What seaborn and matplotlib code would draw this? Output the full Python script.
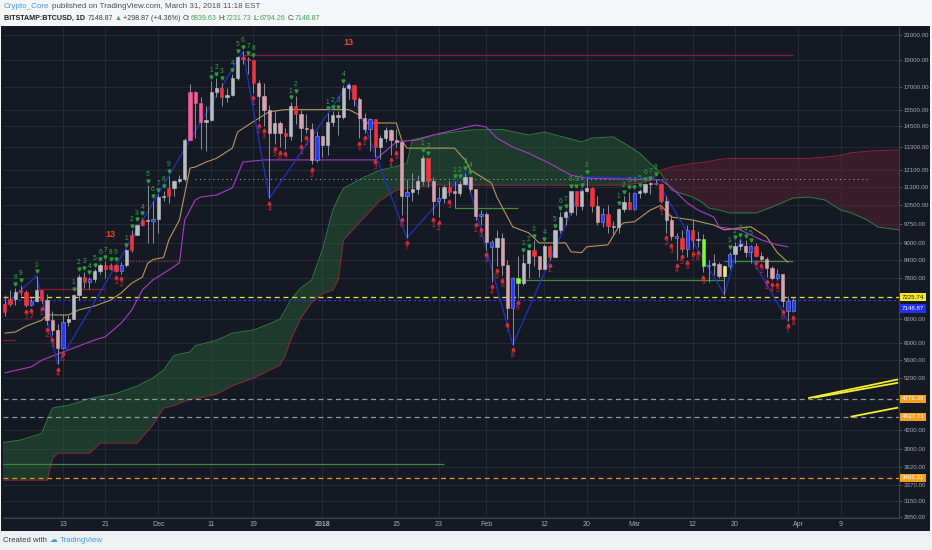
import numpy as np
import pandas as pd
import matplotlib
matplotlib.use('Agg')
import matplotlib.pyplot as plt
import matplotlib.dates as mdates
import matplotlib.transforms as mtransforms
from matplotlib.ticker import FixedLocator, NullLocator, FuncFormatter
import seaborn as sns

W, H = 932, 550

# daily candles BITSTAMP:BTCUSD, 2 Nov 2017 - 31 Mar 2018
candle_start = '2017-11-02'
first_open = 6800
last_open = 6839.63
closes = [7030, 7160, 7390, 7380, 7000, 7100, 7440, 7140, 6590, 6330,
          5880, 6530, 6600, 7300, 7850, 7700, 7780, 8040, 8240, 8100,
          8230, 8030, 8230, 8740, 9300, 9700, 9900, 9850, 9950,
          10860, 10900, 11250, 11600, 11700, 13700, 16650, 15900, 14750, 14850,
          16650, 16900, 16300, 16450, 17600, 19200, 19050, 18950, 17300, 16400,
          15500, 14100, 14700, 14100, 13950, 15760, 15250, 14400, 14300, 12650,
          13900,
          13400, 14750, 15150, 15050, 16900, 17150, 16200, 15000, 14300, 14900,
          13300, 13800, 14250, 13700, 13600, 10900, 11100, 11200, 11600, 12750,
          11600, 10700, 10800, 11300, 11100, 11050, 11450, 11800, 11200, 10050,
          10150,
          9050, 8850, 9200, 8230, 6900, 7800, 7650, 8300, 8750, 8550,
          8100, 8900, 8500, 9500, 10030, 10200, 11150, 10450, 11150, 11250,
          10450, 9800, 10150, 9650, 9600, 10350, 10650, 10350,
          11050, 11100, 11450, 11500, 11450, 10700, 9900, 9250, 9200, 8800,
          9500, 9100, 9150, 8200, 8250, 8270, 7870, 8200, 8600, 8900,
          8900, 8700, 8900, 8550, 8450, 8150, 7800, 7950, 7100, 6840,
          7148.87]
highs = [7300, 7450, 7500, 7600, 7430, 7200, 7880, 7440, 7320, 6820,
         6480, 6750, 6720, 7330, 7950, 8000, 7850, 8100, 8290, 8370,
         8300, 8280, 8330, 8780, 9500, 9740, 9980, 11400, 10700,
         10980, 11150, 11850, 11650, 11900, 13800, 17200, 16700, 16300, 15700,
         17400, 17600, 17300, 16900, 17900, 19300, 19670, 19200, 19000, 17500,
         17300, 15800, 15500, 14800, 14400, 16000, 16400, 15500, 15200, 14700,
         14200,
         13900, 15300, 15400, 15400, 17100, 17250, 17150, 16300, 15300, 14950,
         14900, 14000, 14450, 14300, 14300, 13600, 11700, 12000, 11900, 12900,
         12750, 11800, 11300, 11400, 11600, 11600, 11600, 12000, 11800, 11200,
         10300,
         10200, 9100, 9500, 9400, 8400, 7850, 8550, 8600, 8750, 9100,
         8550, 8980, 8920, 9500, 10200, 10300, 11150, 11150, 11200, 11800,
         11300, 10900, 10400, 10500, 9850, 10400, 10900, 11100,
         11100, 11200, 11500, 11550, 11700, 11500, 10900, 10100, 9400, 9500,
         9700, 9900, 9450, 9350, 8400, 8600, 8350, 8250, 8700, 9050,
         9150, 9100, 8950, 9000, 8700, 8500, 8200, 8100, 7950, 7250,
         7231.73]
lows = [6700, 6960, 6990, 7290, 6940, 6970, 7080, 7050, 6450, 6200,
        5500, 5850, 6430, 6600, 7130, 7500, 7460, 7680, 7940, 7800,
        8060, 8000, 7950, 8160, 8700, 9290, 9640, 9000, 9000,
        9400, 10700, 10600, 10900, 11480, 11600, 13700, 13800, 13200, 13100,
        14800, 16300, 15700, 16000, 16400, 17500, 18700, 17900, 16600, 14800,
        14500, 10800, 13500, 13300, 13200, 13700, 14600, 13600, 14100, 12400,
        12500,
        12800, 12900, 14500, 14000, 14900, 16200, 15700, 13800, 14100, 13100,
        12800, 12700, 13600, 12900, 13300, 10100, 9200, 10700, 11000, 11400,
        11300, 10100, 10000, 10600, 10900, 10400, 10900, 11400, 11100, 9900,
        9700,
        8750, 7700, 8200, 7900, 6600, 5950, 7200, 7600, 7800, 8200,
        7850, 8100, 8400, 8500, 9400, 9700, 10100, 10100, 10300, 11100,
        10200, 9700, 9600, 9400, 9300, 9400, 10200, 10300,
        10300, 10800, 11000, 11000, 11400, 10600, 9400, 9100, 8400, 8700,
        8500, 8800, 8850, 8000, 7700, 7900, 7800, 7300, 8100, 8300,
        8750, 8500, 8300, 8500, 8370, 7850, 7750, 7750, 6950, 6560,
        6794.26]
# colour of each candle body as painted on the chart
candle_colors = ("rrgrrbgrpppbgggrbggrrrbgrgrpb"
                 "ggrgggmmmgggrgggrrrpppgprgrpppb"
                 "pggpggrppbrggpppbgggrpbgrpggppb"
                 "pbgppblggrpgrggggrggrpbrpggr"
                 "bgggrrppbrbrplbgpybggpbrpppbpbb")

# ichimoku-style cloud edges
cloud_dates = ['2017-11-01', '2017-11-05', '2017-11-09', '2017-11-10', '2017-11-11', '2017-11-12',
               '2017-11-14', '2017-11-18', '2017-11-20', '2017-11-23', '2017-11-27', '2017-11-30',
               '2017-12-02', '2017-12-04', '2017-12-07', '2017-12-08', '2017-12-12', '2017-12-15',
               '2017-12-19', '2017-12-22', '2017-12-24', '2017-12-25', '2017-12-26', '2017-12-28',
               '2017-12-30', '2018-01-01', '2018-01-03', '2018-01-04', '2018-01-05', '2018-01-09',
               '2018-01-12', '2018-01-15', '2018-01-17', '2018-01-18', '2018-01-22', '2018-01-29',
               '2018-02-04', '2018-02-09', '2018-02-12', '2018-02-19', '2018-02-21', '2018-02-25',
               '2018-02-27', '2018-03-02', '2018-03-04', '2018-03-06', '2018-03-08', '2018-03-12',
               '2018-03-14', '2018-03-15', '2018-03-17', '2018-03-19', '2018-03-24', '2018-03-27',
               '2018-03-31', '2018-04-03', '2018-04-06', '2018-04-09', '2018-04-11', '2018-04-14',
               '2018-04-16', '2018-04-20']
span_a = [3990, 4040, 4150, 4380, 4600, 4620,
          4650, 4780, 4820, 4880, 5030, 5200,
          5370, 5700, 5780, 5930, 6060, 6240,
          6320, 6480, 6600, 6860, 7140, 7510,
          7750, 8750, 10300, 10800, 11250, 11780,
          12120, 12300, 12450, 13700, 13980, 14270,
          14300, 13980, 14150, 13590, 13810, 13870,
          13530, 12980, 12450, 11970, 11170, 10860,
          10600, 10390, 10300, 10180, 10180, 10430,
          10820, 10860, 10730, 10300, 10180, 9890,
          9610, 9500]
span_b = [3430, 3430, 3430, 3430, 3750, 3830,
          3830, 3830, 3990, 3990, 3990, 4300,
          4600, 4650, 4770, 4780, 4870, 5040,
          5200, 5370, 5480, 5700, 6070, 6650,
          7080, 7330, 7440, 7750, 9120, 10020,
          10730, 11170, 11250, 11300, 11400, 11400,
          11400, 11400, 11400, 11400, 11400, 11400,
          11400, 11500, 11600, 12120, 12270, 12450,
          12500, 12550, 12660, 12710, 12710, 12710,
          12710, 12710, 12780, 12860, 13010, 13080,
          13120, 13150]

# fast (orange) and slow (purple) lines
fast_dates = ['2017-11-02', '2017-11-04', '2017-11-06', '2017-11-09', '2017-11-10', '2017-11-14',
              '2017-11-16', '2017-11-19', '2017-11-22', '2017-11-24', '2017-11-26', '2017-11-28',
              '2017-11-29', '2017-11-30', '2017-12-02', '2017-12-03', '2017-12-05', '2017-12-06',
              '2017-12-07', '2017-12-08', '2017-12-10', '2017-12-12', '2017-12-15', '2017-12-16',
              '2017-12-18', '2017-12-21', '2017-12-22', '2017-12-25', '2018-01-06', '2018-01-08',
              '2018-01-09', '2018-01-15', '2018-01-16', '2018-01-17', '2018-01-26', '2018-01-28',
              '2018-01-29', '2018-02-02', '2018-02-03', '2018-02-05', '2018-02-06', '2018-02-09',
              '2018-02-11', '2018-02-16', '2018-02-17', '2018-02-19', '2018-02-20', '2018-02-24',
              '2018-02-26', '2018-02-27', '2018-03-01', '2018-03-04', '2018-03-06', '2018-03-08',
              '2018-03-12', '2018-03-16', '2018-03-18', '2018-03-21', '2018-03-23', '2018-03-26',
              '2018-03-28', '2018-03-30']
fast_vals = [6240, 6270, 6420, 6580, 6720, 6720,
             6860, 6970, 7140, 7350, 7650, 7840,
             8290, 8420, 8490, 9120, 9890, 11000,
             12220, 12270, 12520, 12710, 13250, 14150,
             14560, 15170, 15370, 15500, 15500, 15170,
             14680, 14680, 13700, 13250, 13250, 12630,
             12120, 11490, 10860, 10010, 9620, 9390,
             9010, 9010, 8690, 8660, 8870, 8940,
             9620, 9780, 9820, 10300, 10500, 10010,
             9890, 9690, 9500, 9580, 9620, 9230,
             8660, 8330]
slow_dates = ['2017-11-02', '2017-11-07', '2017-11-09', '2017-11-13', '2017-11-19', '2017-11-21',
              '2017-11-24', '2017-11-26', '2017-11-28', '2017-11-30', '2017-12-03', '2017-12-05',
              '2017-12-06', '2017-12-08', '2017-12-09', '2017-12-12', '2017-12-15', '2017-12-17',
              '2017-12-21', '2018-01-11', '2018-01-15', '2018-01-19', '2018-01-22', '2018-01-30',
              '2018-02-01', '2018-02-03', '2018-02-06', '2018-02-09', '2018-02-13', '2018-02-17',
              '2018-02-20', '2018-03-06', '2018-03-08', '2018-03-11', '2018-03-13', '2018-03-16',
              '2018-03-17', '2018-03-21', '2018-03-25', '2018-03-28', '2018-03-30']
slow_vals = [5310, 5440, 5590, 5780, 6070, 6150,
             6500, 6860, 7440, 7750, 8070, 8310,
             9890, 10730, 10860, 10950, 11270, 12520,
             12630, 12630, 13590, 13700, 13980, 14560,
             14440, 13810, 13310, 12980, 12450, 11870,
             11720, 11640, 11280, 10600, 10300, 10010,
             9610, 9500, 9120, 8940, 8870]

# swing line joining the pivots
zig_dates = ['2017-11-01', '2017-11-08', '2017-11-12', '2017-12-07', '2017-12-17', '2017-12-22',
             '2018-01-06', '2018-01-17', '2018-01-28', '2018-02-06', '2018-02-20', '2018-03-05',
             '2018-03-18', '2018-03-21', '2018-03-30']
zig_vals = [6860, 7880, 5500, 13700, 19650, 10800,
            17250, 9200, 12000, 5950, 11800, 11700,
            7300, 9150, 6560]

# short support / resistance segments
seg_start = ['2017-12-17', '2017-11-08', '2017-11-01', '2017-11-25', '2017-12-08',
             '2017-11-01', '2018-01-26', '2018-02-07', '2018-03-18']
seg_end = ['2018-03-31', '2017-11-21', '2017-11-04', '2017-12-05', '2018-04-14',
           '2018-01-24', '2018-02-07', '2018-03-18', '2018-03-31']
seg_price = [19350, 7470, 6080, 8380, 11700, 3660, 10400, 7760, 8380]
seg_kind = ['red', 'red', 'red', 'reddot', 'dot', 'green', 'green', 'green', 'green']

# full width price lines and their axis labels
level_prices = [7225.74, 7148.87, 4776.36, 4437.71, 3462.31]
level_kind = ['yellow', 'blue', 'grey', 'grey', 'orange']

# hand drawn yellow trend lines on the right
trend_start = ['2018-04-02 20:00', '2018-04-04 00:00', '2018-04-10 20:00']
trend_end = ['2018-04-19 20:00', '2018-04-19 20:00', '2018-04-19 20:00']
trend_p0 = [4790, 4800, 4440]
trend_p1 = [5170, 5100, 4610]

# TD sequential counts
td_up_dates = ['2017-11-04', '2017-11-05', '2017-11-08',
               '2017-11-15', '2017-11-16', '2017-11-17', '2017-11-18', '2017-11-19', '2017-11-20',
               '2017-11-21', '2017-11-22', '2017-11-23',
               '2017-11-25', '2017-11-26', '2017-11-27', '2017-11-28', '2017-11-29', '2017-11-30',
               '2017-12-01', '2017-12-02', '2017-12-03',
               '2017-12-11', '2017-12-12', '2017-12-13', '2017-12-15', '2017-12-16', '2017-12-17',
               '2017-12-18', '2017-12-19',
               '2017-12-26', '2017-12-27', '2018-01-02', '2018-01-03', '2018-01-04', '2018-01-05',
               '2018-01-20', '2018-01-21', '2018-01-26', '2018-01-27', '2018-01-28', '2018-01-29',
               '2018-02-08', '2018-02-09', '2018-02-10', '2018-02-12', '2018-02-14', '2018-02-15',
               '2018-02-16', '2018-02-17', '2018-02-18',
               '2018-02-19', '2018-02-20', '2018-02-26', '2018-02-27', '2018-02-28', '2018-03-01',
               '2018-03-02', '2018-03-03', '2018-03-04', '2018-03-05',
               '2018-03-19', '2018-03-20', '2018-03-21', '2018-03-22', '2018-03-23']
td_up_counts = [8, 9, 1,
                1, 2, 3, 4, 5, 6, 7, 8, 9,
                1, 2, 3, 4, 5, 6, 7, 8, 9,
                1, 2, 3, 4, 5, 6, 7, 8,
                1, 2, 1, 2, 3, 4,
                1, 2, 1, 2, 3, 4,
                1, 2, 3, 4, 5, 6, 7, 8, 9,
                1, 2, 1, 2, 3, 4, 5, 6, 7, 8,
                1, 2, 3, 4, 5]
td_dn_dates = ['2017-11-06', '2017-11-07', '2017-11-09', '2017-11-10', '2017-11-11', '2017-11-12',
               '2017-11-13', '2017-11-23', '2017-11-24',
               '2017-12-19', '2017-12-20', '2017-12-21', '2017-12-22', '2017-12-23', '2017-12-24',
               '2017-12-25', '2017-12-28', '2017-12-29', '2017-12-30',
               '2018-01-08', '2018-01-09', '2018-01-11', '2018-01-14', '2018-01-15', '2018-01-16',
               '2018-01-17', '2018-01-22', '2018-01-23', '2018-01-25',
               '2018-01-30', '2018-01-31', '2018-02-01', '2018-02-02', '2018-02-03', '2018-02-04',
               '2018-02-05', '2018-02-06', '2018-02-07', '2018-02-13',
               '2018-03-06', '2018-03-07', '2018-03-08', '2018-03-09', '2018-03-10', '2018-03-11',
               '2018-03-12', '2018-03-13', '2018-03-14',
               '2018-03-24', '2018-03-25', '2018-03-26', '2018-03-27', '2018-03-28', '2018-03-29',
               '2018-03-30', '2018-03-31']
td_dn_counts = [1, 2, 1, 2, 3, 4,
                5, 1, 2,
                1, 2, 3, 4, 5, 6,
                7, 1, 2, 3,
                1, 2, 3, 4, 5, 6,
                7, 1, 2, 3,
                1, 2, 3, 4, 5, 6,
                7, 8, 9, 1,
                1, 2, 3, 4, 5, 6,
                7, 8, 9,
                1, 2, 3, 4, 5, 6,
                7, 8]
td13_dates = ['2017-11-22', '2018-01-06']
td13_prices = [9150, 19980]

# axis ticks
price_ticks = [21000, 19000, 17000, 15500, 14500, 13300, 12100, 11300, 10500, 9750,
               9000, 8400, 7800, 6600, 6000, 5600, 5200, 4200, 3900, 3620, 3370, 3150, 2950]
date_ticks = ['2017-11-13', '2017-11-21', '2017-12-01', '2017-12-11', '2017-12-19', '2018-01-01',
              '2018-01-15', '2018-01-23', '2018-02-01', '2018-02-12', '2018-02-20', '2018-03-01',
              '2018-03-12', '2018-03-20', '2018-04-01', '2018-04-09']
date_labels = ['13', '21', 'Dec', '11', '19', '2018', '15', '23', 'Feb', '12', '20', 'Mar',
               '12', '20', 'Apr', '9']


def dnum(s):
    return mdates.date2num(pd.to_datetime(s))


sns.set_style('dark')
plt.rcParams['font.family'] = ['Liberation Sans', 'DejaVu Sans']

BG = '#151924'
fig = plt.figure(figsize=(W / 100, H / 100), dpi=100, facecolor='#f4f6f8')
fig.patches.append(plt.Rectangle((1 / W, 1 - 531 / H), 929 / W, 505 / H, transform=fig.transFigure,
                                 fc=BG, ec='none', zorder=-2))
fig.patches.append(plt.Rectangle((0, 0), 1, 1 - 531 / H, transform=fig.transFigure,
                                 fc='#eef1f4', ec='none', zorder=-2))
ax = fig.add_axes([3 / W, 1 - 518 / H, 896 / W, 491 / H])
ax.set_facecolor(BG)
ax.set_yscale('log')

# cloud
cx = dnum(cloud_dates)
a = np.array(span_a, float)
b = np.array(span_b, float)
ax.fill_between(cx, a, b, where=a >= b, interpolate=True, color='#2a6a3a', alpha=0.42, lw=0, zorder=1)
ax.fill_between(cx, a, b, where=a < b, interpolate=True, color='#6a2234', alpha=0.42, lw=0, zorder=1)
sns.lineplot(x=cx, y=a, ax=ax, color='#2f7d42', lw=0.7, zorder=2)
sns.lineplot(x=cx, y=b, ax=ax, color='#8e2535', lw=0.7, zorder=2)

# support / resistance segments
seg_style = {'red': dict(color='#8e1f2e', lw=0.9, ls='-'),
             'reddot': dict(color='#8e3a2e', lw=0.9, ls=(0, (1, 1.5))),
             'dot': dict(color='#9aa0a8', lw=0.8, ls=(0, (1, 3))),
             'green': dict(color='#3f8a3a', lw=0.9, ls='-')}
for s0, s1, p, k in zip(seg_start, seg_end, seg_price, seg_kind):
    ax.hlines(p, dnum(s0), dnum(s1), zorder=2, **seg_style[k])

# full width levels
lvl_style = {'yellow': dict(color='#e9e23a', lw=0.9, ls=(0, (4, 3))),
             'blue': dict(color='#2736d8', lw=0.9, ls=(0, (2, 2))),
             'grey': dict(color='#8f959e', lw=0.9, ls=(0, (4, 3))),
             'orange': dict(color='#e8932a', lw=0.9, ls=(0, (4, 3)))}
for p, k in zip(level_prices, level_kind):
    ax.axhline(p, zorder=2, **lvl_style[k])

# fast / slow lines and swing line
sns.lineplot(x=dnum(fast_dates), y=fast_vals, ax=ax, color='#b8955c', lw=0.8, zorder=3)
sns.lineplot(x=dnum(slow_dates), y=slow_vals, ax=ax, color='#a73ec4', lw=0.8, zorder=3)
sns.lineplot(x=dnum(zig_dates), y=zig_vals, ax=ax, color='#2231c4', lw=0.9, zorder=3, sort=False)

# candles
dates = pd.date_range(candle_start, periods=len(closes), freq='D')
xs = mdates.date2num(dates)
opens = [first_open] + closes[:-1]
opens[-1] = last_open
o = np.array(opens, float)
c = np.array(closes, float)
h = np.maximum(np.array(highs, float), np.maximum(o, c))
l = np.minimum(np.array(lows, float), np.minimum(o, c))
palette = {'g': '#b9bdc3', 'p': '#d7a4ae', 'r': '#f2333e', 'b': '#2b3cf0',
           'm': '#f45d98', 'l': '#84f53c', 'y': '#e0f27a'}
fills = [palette[k] for k in candle_colors]
edges = ['#7d95ff' if k == 'b' else palette[k] for k in candle_colors]
body_lo = np.minimum(o, c)
body_h = np.maximum(np.abs(c - o), body_lo * 0.006)
ax.vlines(xs, l, h, colors='#8a9099', lw=0.7, zorder=4)
ax.bar(xs, body_h, bottom=body_lo, width=0.62, color=fills, edgecolor=edges, linewidth=0.4, zorder=5)

# TD counts
idx = {d.strftime('%Y-%m-%d'): i for i, d in enumerate(dates)}
for d, n in zip(td_up_dates, td_up_counts):
    i = idx[d]
    ax.plot(xs[i], h[i] * 1.018, marker='v', ms=2.2, color='#2b9a3c', zorder=6, ls='none')
    ax.text(xs[i], h[i] * 1.03, str(n), color='#34a845', fontsize=4.8, ha='center', va='bottom', zorder=6)
for d, n in zip(td_dn_dates, td_dn_counts):
    i = idx[d]
    ax.plot(xs[i], l[i] / 1.018, marker='^', ms=2.2, color='#d82e38', zorder=6, ls='none')
    ax.text(xs[i], l[i] / 1.03, str(n), color='#d82e38', fontsize=4.8, ha='center', va='top', zorder=6)
for d, p in zip(td13_dates, td13_prices):
    ax.text(dnum(d), p, '13', color='#e4482f', fontsize=6.5, fontweight='bold', ha='center', va='bottom', zorder=6)

# yellow trend lines
for s0, s1, p0, p1 in zip(trend_start, trend_end, trend_p0, trend_p1):
    ax.plot([dnum(s0), dnum(s1)], [p0, p1], color='#f4ef2e', lw=1.3, zorder=6, solid_capstyle='butt')

# axes limits and ticks
x13 = dnum('2017-11-13')
ax.set_xlim(x13 - 11.34, x13 + 158.0)
ax.set_ylim(2941, 21695)
ax.yaxis.set_major_locator(FixedLocator(price_ticks))
ax.yaxis.set_minor_locator(NullLocator())
ax.yaxis.set_major_formatter(FuncFormatter(lambda v, p: f'{v:.2f}'))
ax.yaxis.tick_right()
ax.set_xticks(dnum(date_ticks))
ax.set_xticklabels(date_labels)
ax.xaxis.set_minor_locator(NullLocator())
for i, t in enumerate(ax.get_xticklabels()):
    if date_labels[i] == '2018':
        t.set_fontweight('bold')
ax.tick_params(axis='y', colors='#5a606b', labelcolor='#a3a8b1', labelsize=4.4, length=2, width=0.6, pad=1.5)
ax.tick_params(axis='x', labelcolor='#a3a8b1', labelsize=5, length=0, pad=2.5)
ax.grid(True, color='#262b37', lw=0.7)
ax.set_axisbelow(True)
for side in ['left', 'top']:
    ax.spines[side].set_visible(False)
for side in ['right', 'bottom']:
    ax.spines[side].set_color('#3c414c')
    ax.spines[side].set_linewidth(0.8)
ax.set_xlabel('')
ax.set_ylabel('')

# price axis labels for the levels (the blue one is pushed below the yellow one)
trans = mtransforms.blended_transform_factory(ax.transAxes, ax.transData)
lbl_style = {'yellow': ('#f3ea2f', '#1a1a1a', 0), 'blue': ('#2330f0', '#ffffff', -6.5),
             'grey': ('#f5a020', '#ffffff', 0), 'orange': ('#f5a020', '#ffffff', 0)}
for p, k in zip(level_prices, level_kind):
    fc, tc, dy = lbl_style[k]
    ax.annotate(f'{p:.2f}', xy=(1.003, p), xycoords=trans, xytext=(0, dy), textcoords='offset points',
                ha='left', va='center', fontsize=4.4, color=tc, zorder=7, annotation_clip=False,
                bbox=dict(boxstyle='square,pad=0.3', fc=fc, ec='none'))


# header and footer, laid out left to right
def text_run(x, y, parts, size):
    r = fig.canvas.get_renderer()
    for s, col, weight, gap in parts:
        t = fig.text(x / W, 1 - y / H, s, color=col, fontsize=size, fontweight=weight, ha='left', va='center')
        x += t.get_window_extent(renderer=r).width + gap


dark, green = '#3a3e46', '#3aa655'
text_run(4, 7, [('Crypto_Core', '#3f9be6', 'normal', 2.5),
                ('published on TradingView.com, March 31, 2018 11:18 EST', '#4b4f56', 'normal', 0)], 5.8)
text_run(4, 18, [('BITSTAMP:BTCUSD, 1D', '#1e2129', 'bold', 2.5), ('7148.87', dark, 'normal', 1.5),
                 ('▲', green, 'normal', 1.5), ('+298.87 (+4.36%)', dark, 'normal', 2),
                 ('O:', dark, 'normal', 0.3), ('6839.63', green, 'normal', 2),
                 ('H:', dark, 'normal', 0.3), ('7231.73', green, 'normal', 2),
                 ('L:', dark, 'normal', 0.3), ('6794.26', green, 'normal', 2),
                 ('C:', dark, 'normal', 0.3), ('7148.87', green, 'normal', 0)], 5.1)
text_run(3, 541, [('Created with', '#3a3e46', 'normal', 3), ('☁', '#3f9be6', 'normal', 2),
                  ('TradingView', '#3f9be6', 'normal', 0)], 5.6)

fig.savefig('out.png', dpi=100, facecolor=fig.get_facecolor())
